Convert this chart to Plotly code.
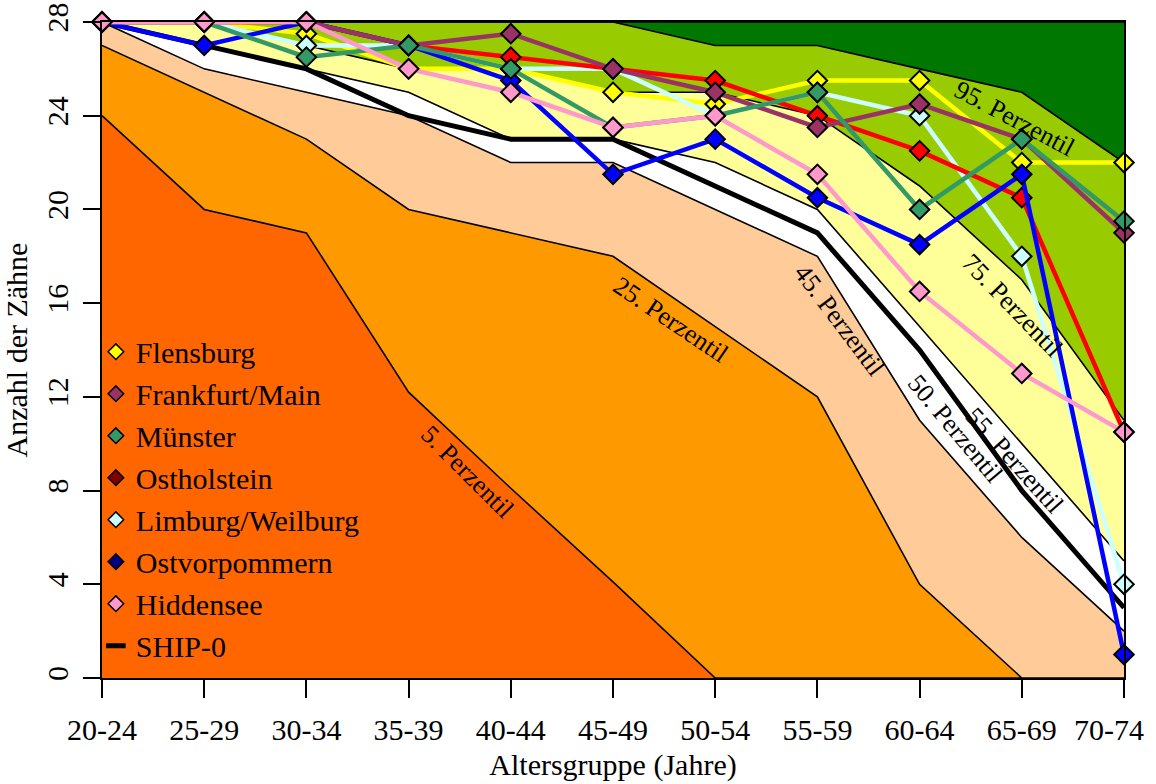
import plotly.graph_objects as go

# ---------------- data ----------------
categories = ["20-24", "25-29", "30-34", "35-39", "40-44", "45-49",
              "50-54", "55-59", "60-64", "65-69", "70-74"]
y_ticks = [0, 4, 8, 12, 16, 20, 24, 28]

# SHIP-0 percentile curves (number of teeth)
p5 = [24, 20, 19, 12.2, 8.1, 4.1, 0, 0, 0, 0, 0]
p25 = [27, 25, 23, 20, 19, 18, 15, 12, 4, 0, 0]
p45 = [28, 26, 25, 24, 22, 22, 20, 18, 11, 6, 2]
ship0 = [28, 27, 26, 24, 23, 23, 21, 19, 14, 8, 3]      # 50. Perzentil
p55 = [28, 27, 26, 25, 23, 23, 22, 20, 15, 10, 5]
p75 = [28, 28, 27, 26, 26, 25, 25, 24, 21, 17, 11]
p95 = [28, 28, 28, 28, 28, 28, 27, 27, 26, 25, 22]
y_max = 28

# regional medians
flensburg = [28, 28, 27.5, 26, 26, 25, 24.5, 25.5, 25.5, 22, 22]
frankfurt = [28, 28, 28, 27, 27.5, 26, 25, 23.5, 24.5, 23, 19]
muenster = [28, 28, 26.5, 27, 26, 23.5, 24, 25, 20, 23, 19.5]
ostholstein = [28, 28, 28, 27, 26.5, 26, 25.5, 24, 22.5, 20.5, 10.5]
limburg = [28, 28, 27, 27, 26, 26, 24, 25, 24, 18, 4]
ostvorpommern = [28, 27, 28, 27, 25.5, 21.5, 23, 20.5, 18.5, 21.5, 1]
hiddensee = [28, 28, 28, 26, 25, 23.5, 24, 21.5, 16.5, 13, 10.5]

FONT = "Liberation Serif, Times New Roman, serif"
xi = list(range(len(categories)))

# the last label is drawn separately, nudged inwards as in the original
tick_text = categories[:-1] + [""]

fig = go.Figure()

# ---------------- percentile bands ----------------
bands = [
    (p5, "#FF6600"),
    (p25, "#FF9900"),
    (p45, "#FFCC99"),
    (p55, "#FFFFFF"),
    (p75, "#FFFF99"),
    (p95, "#99CC00"),
]
fig.add_trace(go.Scatter(x=xi, y=[0] * len(xi), mode="lines",
                         line=dict(width=0), showlegend=False, hoverinfo="skip"))
for vals, col in bands:
    fig.add_trace(go.Scatter(x=xi, y=vals, mode="lines", fill="tonexty",
                             fillcolor=col, line=dict(color="black", width=1.6),
                             showlegend=False, hoverinfo="skip"))
fig.add_trace(go.Scatter(x=xi, y=[y_max] * len(xi), mode="lines", fill="tonexty",
                         fillcolor="#007800", line=dict(color="black", width=1.6),
                         showlegend=False, hoverinfo="skip"))

# SHIP-0 median (thick black)
fig.add_trace(go.Scatter(x=xi, y=ship0, mode="lines",
                         line=dict(color="black", width=5),
                         showlegend=False, cliponaxis=False))

# ---------------- city lines (drawing order) ----------------
cities_draw = [
    ("Flensburg", flensburg, "#FFFF00"),
    ("Limburg/Weilburg", limburg, "#CCFFFF"),
    ("Ostholstein", ostholstein, "#FF0000"),
    ("Ostvorpommern", ostvorpommern, "#0000FF"),
    ("Frankfurt/Main", frankfurt, "#993366"),
    ("Münster", muenster, "#339966"),
    ("Hiddensee", hiddensee, "#FF99CC"),
]
for name, vals, col in cities_draw:
    fig.add_trace(go.Scatter(
        x=xi, y=vals, mode="lines+markers", name=name, showlegend=False,
        line=dict(color=col, width=4.5),
        marker=dict(symbol="diamond", size=15, color=col,
                    line=dict(color="black", width=2)),
        cliponaxis=False))

# ---------------- legend entries ----------------
legend_items = [
    ("Flensburg", "#FFFF00"),
    ("Frankfurt/Main", "#993366"),
    ("Münster", "#339966"),
    ("Ostholstein", "#800000"),
    ("Limburg/Weilburg", "#CCFFFF"),
    ("Ostvorpommern", "#000080"),
    ("Hiddensee", "#FF99CC"),
]
for name, col in legend_items:
    fig.add_trace(go.Scatter(
        x=[None], y=[None], mode="markers", name=name,
        marker=dict(symbol="diamond", size=12, color=col,
                    line=dict(color="black", width=1.5))))
fig.add_trace(go.Scatter(
    x=[None], y=[None], mode="markers", name="SHIP-0",
    marker=dict(symbol="line-ew", size=14, color="black",
                line=dict(color="black", width=5))))

# ---------------- percentile labels ----------------
labels = [
    ("5. Perzentil", 3.57, 8.8, 45),
    ("25. Perzentil", 5.56, 15.3, 34),
    ("45. Perzentil", 7.22, 15.28, 53),
    ("50. Perzentil", 8.35, 10.67, 50),
    ("55. Perzentil", 8.93, 9.3, 48),
    ("75. Perzentil", 8.91, 15.92, 46),
    ("95. Perzentil", 8.93, 23.9, 28),
]
for txt, lx, ly, ang in labels:
    fig.add_annotation(x=lx, y=ly, xref="x", yref="y", text=txt,
                       showarrow=False, textangle=ang,
                       font=dict(family=FONT, size=26, color="black"))

# last x tick label (kept inside the page)
fig.add_annotation(x=xi[-1], y=0, xref="x", yref="paper", text=categories[-1],
                   showarrow=False, xanchor="right", yanchor="middle",
                   xshift=22, yshift=-51,
                   font=dict(family=FONT, size=30, color="black"))

fig.update_layout(
    width=1156, height=784,
    margin=dict(l=102, r=32, t=22, b=106, autoexpand=False),
    paper_bgcolor="white", plot_bgcolor="white",
    font=dict(family=FONT, size=30, color="black"),
    showlegend=True,
    legend=dict(x=-0.006, y=0.537, xanchor="left", yanchor="top",
                traceorder="normal",
                bgcolor="rgba(0,0,0,0)", borderwidth=0,
                font=dict(family=FONT, size=30, color="black"),
                tracegroupgap=0, itemwidth=30),
    xaxis=dict(range=[0, len(categories) - 1], tickmode="array",
               tickvals=xi, ticktext=tick_text, automargin=False,
               showgrid=False, zeroline=False,
               showline=True, linecolor="black", linewidth=2, mirror=True,
               ticks="outside", ticklen=18, tickwidth=2, tickcolor="black",
               ticklabelstandoff=6, ticklabeloverflow="allow",
               tickfont=dict(family=FONT, size=30),
               title=dict(text="Altersgruppe (Jahre)", standoff=9,
                          font=dict(family=FONT, size=30))),
    yaxis=dict(range=[0, y_max], tickmode="array", tickvals=y_ticks,
               ticktext=[str(v) for v in y_ticks], automargin=False,
               showgrid=False, zeroline=False,
               showline=True, linecolor="black", linewidth=2, mirror=True,
               ticks="outside", ticklen=17, tickwidth=2, tickcolor="black",
               tickangle=-90, ticklabelstandoff=3, ticklabeloverflow="allow",
               tickfont=dict(family=FONT, size=30),
               title=dict(text="Anzahl der Zähne", standoff=6,
                          font=dict(family=FONT, size=30))),
)

fig.write_html("out.html")
